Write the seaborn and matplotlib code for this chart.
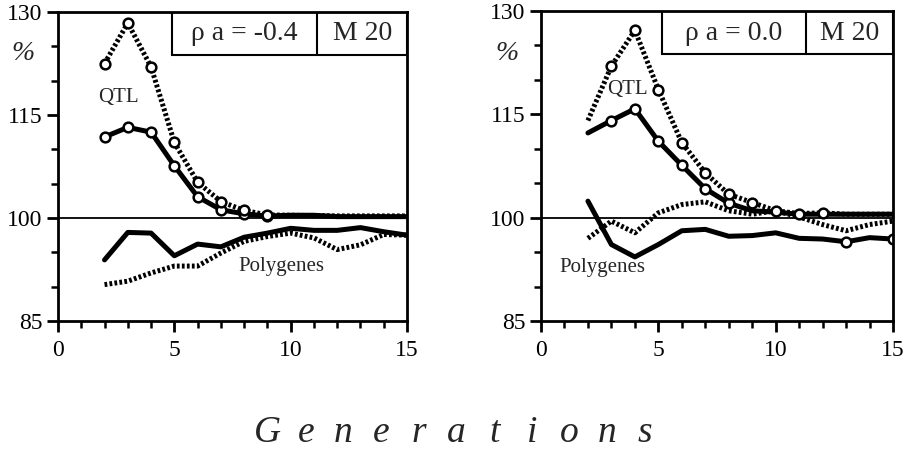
import numpy as np
import pandas as pd
import matplotlib
matplotlib.use("Agg")
import matplotlib.pyplot as plt
from matplotlib.patches import Rectangle
import seaborn as sns

# ---------------- data ----------------
gens = [2, 3, 4, 5, 6, 7, 8, 9, 10, 11, 12, 13, 14, 15]

# left panel: rho a = -0.4
left_qtl_dot = [122.5, 128.4, 122.0, 111.0, 105.2, 102.4, 101.1, 100.45, 100.4, 100.35, 100.3, 100.3, 100.3, 100.3]
left_qtl_sol = [111.8, 113.2, 112.5, 107.6, 103.1, 101.2, 100.6, 100.3, 100.4, 100.4, 100.2, 100.2, 100.2, 100.2]
left_poly_sol = [93.9, 97.9, 97.8, 94.5, 96.2, 95.8, 97.2, 97.8, 98.5, 98.2, 98.2, 98.6, 98.0, 97.5]
left_poly_dot = [90.3, 90.8, 92.0, 93.0, 93.0, 94.9, 96.6, 97.3, 97.8, 97.1, 95.4, 96.1, 97.6, 97.5]

# right panel: rho a = 0.0
right_qtl_dot = [114.1, 122.0, 127.2, 118.6, 110.9, 106.5, 103.4, 102.2, 101.0, 100.6, 100.7, 100.5, 100.5, 100.5]
right_qtl_sol = [112.3, 114.1, 115.8, 111.1, 107.6, 104.2, 102.1, 101.0, 100.8, 100.5, 100.5, 100.5, 100.5, 100.5]
right_poly_sol = [102.4, 96.1, 94.3, 96.1, 98.1, 98.3, 97.3, 97.4, 97.8, 97.0, 96.9, 96.5, 97.1, 96.9]
right_poly_dot = [97.0, 99.5, 97.8, 100.7, 101.9, 102.3, 101.0, 100.5, 101.0, 100.1, 99.0, 98.1, 99.0, 99.5]

panel_labels = ["\u03c1 a = -0.4", "\u03c1 a = 0.0"]
m_label = "M 20"
y_ticks = [85, 100, 115, 130]
x_ticks = [0, 5, 10, 15]
xlabel = "Generations"

# ---------------- style ----------------
sns.set_theme(style="ticks")
plt.rcParams["font.family"] = ["Liberation Serif", "DejaVu Serif"]

fig = plt.figure(figsize=(9.11, 4.5), dpi=100)
W, H = 911, 450
ax1 = fig.add_axes([58 / W, 1 - 321 / H, (407 - 58) / W, (321 - 12) / H])
ax2 = fig.add_axes([541 / W, 1 - 321 / H, (893 - 541) / W, (321 - 11) / H])

DOT = (0, (0.55, 0.45))
LW = 3.6
mk = dict(marker="o", markersize=7, markerfacecolor="white",
          markeredgecolor="black", markeredgewidth=1.8)


def draw(ax, df, col, ls, marks=None):
    kw = {}
    if marks is not None:
        kw = dict(mk)
        kw["markevery"] = marks
    sns.lineplot(data=df, x="g", y=col, ax=ax, color="black", lw=LW,
                 linestyle=ls, errorbar=None, **kw)


def panel(ax, qd, qs, ps, pd_, qd_m, qs_m, ps_m, label, box_x, div_x,
          qtl_pos, poly_pos):
    df = pd.DataFrame({"g": gens, "qd": qd, "qs": qs, "ps": ps, "pd": pd_})
    ax.axhline(100, color="black", lw=1.3, zorder=1)
    draw(ax, df, "pd", DOT)
    draw(ax, df, "ps", "-", ps_m)
    draw(ax, df, "qs", "-", qs_m)
    draw(ax, df, "qd", DOT, qd_m)

    ax.set_xlim(0, 15)
    ax.set_ylim(85, 130)
    ax.set_xticks(x_ticks)
    ax.set_xticks(range(0, 16), minor=True)
    ax.set_yticks(y_ticks)
    ax.set_yticks(range(85, 131, 5), minor=True)
    ax.set_xlabel("")
    ax.set_ylabel("")
    ax.tick_params(axis="both", which="major", direction="out", length=8,
                   width=2, labelsize=17, color="black", labelcolor="black")
    ax.tick_params(axis="both", which="minor", direction="out", length=5,
                   width=1.8, color="black")
    ax.tick_params(axis="x", pad=6)
    ax.tick_params(axis="y", pad=3)
    for s in ax.spines.values():
        s.set_visible(True)
        s.set_linewidth(2)
        s.set_color("black")

    # label box
    ax.add_patch(Rectangle((box_x, 123.7), 15 - box_x, 6.3, fill=False,
                           edgecolor="black", lw=1.5, zorder=5))
    ax.plot([div_x, div_x], [123.7, 130], color="black", lw=1.5, zorder=5)
    ax.text((box_x + div_x) / 2, 126.8, label, ha="center", va="center",
            fontsize=20, zorder=6)
    ax.text((div_x + 15) / 2, 126.8, m_label, ha="center", va="center",
            fontsize=20, zorder=6)
    ax.text(qtl_pos[0], qtl_pos[1], "QTL", ha="center", va="center",
            fontsize=15)
    ax.text(poly_pos[0], poly_pos[1], "Polygenes", ha="center", va="center",
            fontsize=15)


panel(ax1, left_qtl_dot, left_qtl_sol, left_poly_sol, left_poly_dot,
      [0, 1, 2, 3, 4, 5, 6, 7], [0, 1, 2, 3, 4, 5, 6, 7], None,
      panel_labels[0], 4.9, 11.15, (2.6, 117.6), (9.6, 93.0))
panel(ax2, right_qtl_dot, right_qtl_sol, right_poly_sol, right_poly_dot,
      [1, 2, 3, 4, 5, 6, 7, 8, 9, 10], [1, 2, 3, 4, 5, 6], [11, 13],
      panel_labels[1], 5.14, 11.3, (3.7, 118.6), (2.6, 92.7))

fig.text(23 / W, 1 - 54 / H, "%", ha="center", va="center", fontsize=20,
         style="italic")
fig.text(507 / W, 1 - 53 / H, "%", ha="center", va="center", fontsize=20,
         style="italic")

# letter-spaced italic axis title
x0, step = 268, 37.7
for i, ch in enumerate(xlabel):
    fig.text((x0 + i * step) / W, 1 - 442 / H, ch, ha="center",
             va="baseline", fontsize=27, style="italic")

fig.savefig("out.png", dpi=100, facecolor="white")
